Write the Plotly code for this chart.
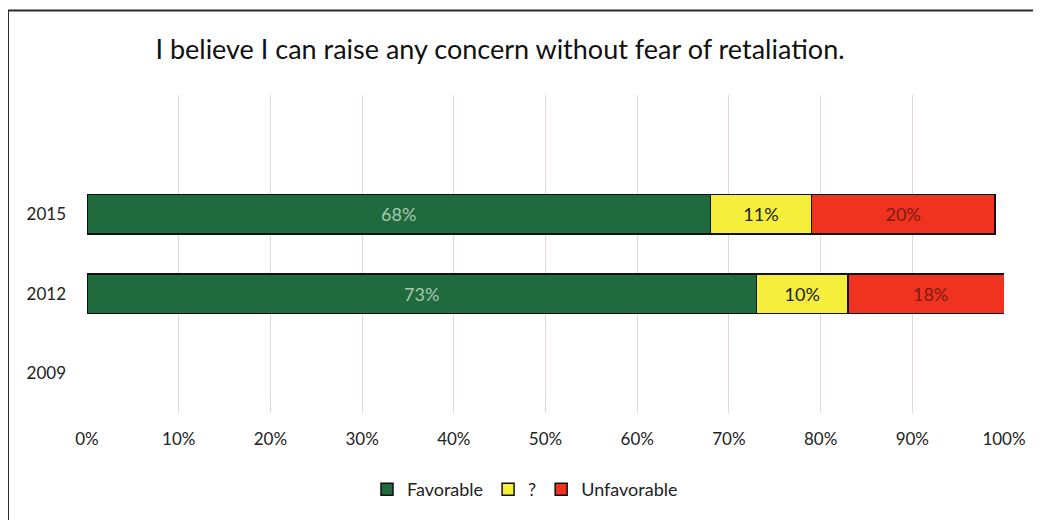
import plotly.graph_objects as go

years = ["2009", "2012", "2015"]
favorable = [None, 73, 68]
neutral = [None, 10, 11]
unfavorable = [None, 18, 20]
x_ticks = list(range(0, 101, 10))
x_tick_labels = [f"{v}%" for v in x_ticks]
title_text = "I believe I can raise any concern without fear of retaliation."

FONT = "Lato, 'Open Sans', sans-serif"

# page body adds an 8px offset; figure sized to fit the 1041x520 window
W, H = 1033, 512
OFF = 8

series = [
    ("Favorable", favorable, "#1f6b3d", "#a8c8b2"),
    ("?", neutral, "#f5ee3a", "#222222"),
    ("Unfavorable", unfavorable, "#f0331f", "#7a1c12"),
]

fig = go.Figure()
for name, vals, color, tcolor in series:
    fig.add_trace(go.Bar(
        y=years, x=vals, name=name, orientation="h",
        marker=dict(color=color, line=dict(color="#111111", width=1.5)),
        text=[f"{v}%" if v is not None else "" for v in vals],
        textposition="inside", insidetextanchor="middle",
        textangle=0, constraintext="none",
        textfont=dict(family=FONT, size=18, color=tcolor),
        width=0.5,
    ))

bx0 = (8 - 87) / 917
by1 = (415 - 10) / 320

fig.update_layout(
    barmode="stack",
    width=W, height=H,
    margin=dict(l=87 - OFF, r=37, t=95 - OFF, b=105),
    paper_bgcolor="white", plot_bgcolor="white",
    font=dict(family=FONT, size=17, color="#222222"),
    title=dict(text=title_text, x=(500 - OFF) / W, xanchor="center", xref="container",
               y=1 - (50 - OFF) / H, yanchor="middle", yref="container",
               font=dict(family=FONT, size=27, color="#111111")),
    xaxis=dict(range=[0, 100], tickvals=x_ticks, ticktext=x_tick_labels,
               showgrid=True, gridcolor="#e6d6db", gridwidth=1,
               zeroline=False, showline=False, ticks="",
               ticklabelstandoff=14, tickfont=dict(size=17)),
    yaxis=dict(type="category", categoryorder="array", categoryarray=years,
               range=[-0.5, 3.5], showgrid=False, zeroline=False, showline=False,
               ticks="", ticklabelstandoff=20, tickfont=dict(size=17)),
    legend=dict(orientation="h", x=(525 - 87) / 917, xanchor="center",
                y=(415 - 492) / 320, yanchor="middle",
                font=dict(size=18), traceorder="normal"),
    shapes=[
        dict(type="line", xref="paper", yref="paper", x0=bx0, x1=1.2, y0=by1, y1=by1,
             line=dict(color="#2a2a2a", width=2), layer="below"),
        dict(type="line", xref="paper", yref="paper", x0=bx0, x1=bx0, y0=-0.6, y1=by1,
             line=dict(color="#2a2a2a", width=2), layer="below"),
    ],
)

fig.write_html("out.html")
